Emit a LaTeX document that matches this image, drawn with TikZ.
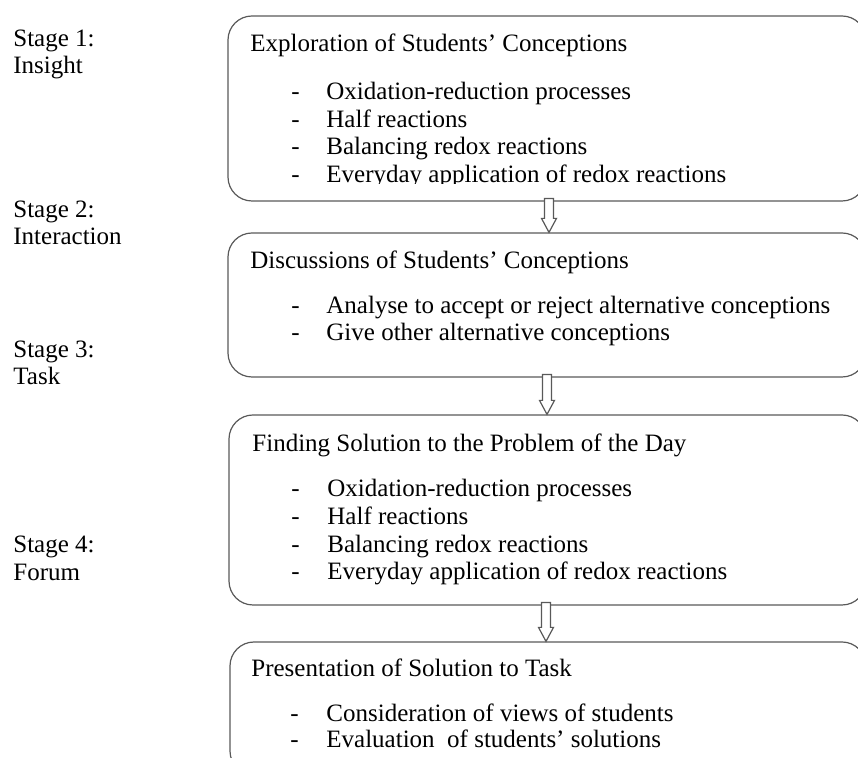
\documentclass[tikz,border=0pt]{standalone}
\usepackage{fontspec}
\setmainfont{Liberation Serif}
\usepackage{tikz}
\usetikzlibrary{calc, fit}
\tikzset{stagebox/.style={draw=black!65, line width=0.6pt, rounded corners=12pt, inner sep=0pt},
  txt/.style={anchor=base west, inner sep=0pt, font=\fontsize{12.5}{15}\selectfont},
  hollow/.style={draw=black!65, line width=0.6pt, fill=white}}
\newcommand{\hollowarrow}[3]{%
  \draw[hollow] ($(#1.south -| #3)+(-4.5,-3)$) -- ($(#2.north -| #3)+(-4.5,-14)$) -- ($(#2.north -| #3)+(-7.5,-14)$) -- (#2.north -| #3) -- ($(#2.north -| #3)+(7.5,-14)$) -- ($(#2.north -| #3)+(4.5,-14)$) -- ($(#1.south -| #3)+(4.5,-3)$) -- cycle;}

\begin{document}
\begin{tikzpicture}[x=0.5pt, y=-0.5pt]

	\clip (0,0) rectangle (858,758);

	%stages
	\node [txt] (s1) at (13,47) {Stage 1:};
	\node [txt] (s1n) at (13,74) {Insight};
	\node [txt] (s2) at (13,218) {Stage 2:};
	\node [txt] (s2n) at (13,245) {Interaction};
	\node [txt] (s3) at (13,358) {Stage 3:};
	\node [txt] (s3n) at (13,385) {Task};
	\node [txt] (s4) at (13,553) {Stage 4:};
	\node [txt] (s4n) at (13,581) {Forum};

	%boxes
	\node [stagebox, fit={(228,16) (866,201)}] (b1) {};
	\node [stagebox, fit={(228,233) (866,377)}] (b2) {};
	\node [stagebox, fit={(229,415) (866,605)}] (b3) {};
	\node [stagebox, fit={(230,642) (866,775)}] (b4) {};

	%box 1
	\node [txt] (t1) at (250,52) {Exploration of Students’ Conceptions};
	\begin{scope}
		\clip (0,0) rectangle (858,184);
		\foreach \y/\t [count=\i] in {100/Oxidation-reduction processes, 128/Half reactions, 155/Balancing redox reactions, 183/Everyday application of redox reactions} {
			\node [txt] (d1\i) at (291,\y) {-};
			\node [txt] (i1\i) at (326,\y) {\t};
		}
	\end{scope}

	%box 2
	\node [txt] (t2) at (250,269) {Discussions of Students’ Conceptions};
	\foreach \y/\t [count=\i] in {314/Analyse to accept or reject alternative conceptions, 341/Give other alternative conceptions} {
		\node [txt] (d2\i) at (291,\y) {-};
		\node [txt] (i2\i) at (326,\y) {\t};
	}

	%box 3
	\node [txt] (t3) at (252,452) {Finding Solution to the Problem of the Day};
	\foreach \y/\t [count=\i] in {497/Oxidation-reduction processes, 525/Half reactions, 553/Balancing redox reactions, 580/Everyday application of redox reactions} {
		\node [txt] (d3\i) at (291,\y) {-};
		\node [txt] (i3\i) at (327,\y) {\t};
	}

	%box 4
	\node [txt] (t4) at (251,677) {Presentation of Solution to Task};
	\foreach \y/\t [count=\i] in {722/Consideration of views of students, 748/Evaluation~ of students’ solutions} {
		\node [txt] (d4\i) at (290,\y) {-};
		\node [txt] (i4\i) at (326,\y) {\t};
	}

	%arrows
	\coordinate (c1) at (549,0);
	\coordinate (c2) at (547,0);
	\coordinate (c3) at (546,0);
	\hollowarrow{b1}{b2}{c1}
	\hollowarrow{b2}{b3}{c2}
	\hollowarrow{b3}{b4}{c3}

\end{tikzpicture}
\end{document}
